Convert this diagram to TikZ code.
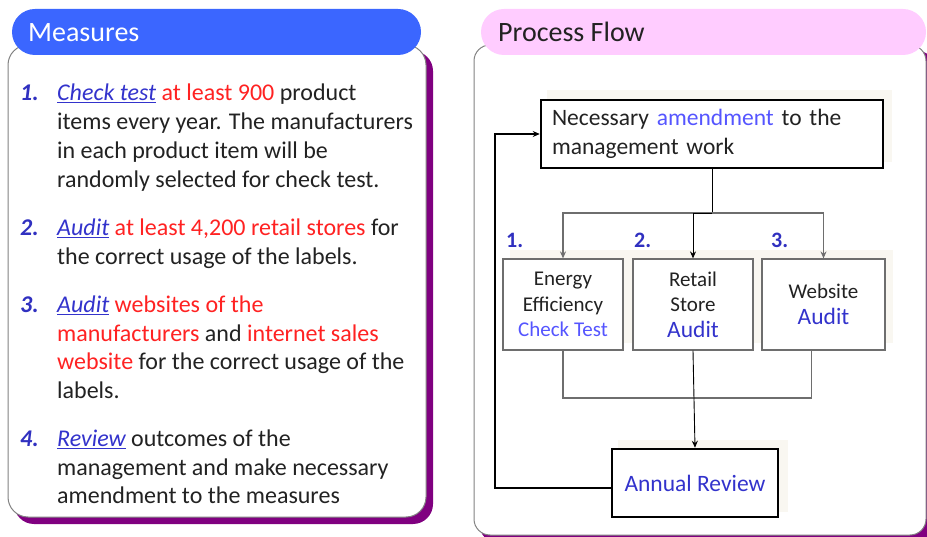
\documentclass[tikz,border=0pt]{standalone}
\usepackage{fontspec}
\setmainfont{Carlito}
\usetikzlibrary{arrows.meta,calc}
\definecolor{hdrblue}{RGB}{59,102,255}
\definecolor{hdrpink}{RGB}{255,204,255}
\definecolor{shadowpurple}{RGB}{128,0,128}
\definecolor{numblue}{RGB}{48,48,192}
\definecolor{kwblue}{RGB}{51,51,204}
\definecolor{txtred}{RGB}{255,34,34}
\definecolor{txtdark}{RGB}{34,34,34}
\definecolor{lightblue}{RGB}{85,85,255}
\definecolor{beige}{RGB}{249,247,241}
\definecolor{panelgray}{RGB}{130,130,130}
\definecolor{linegray}{RGB}{110,110,110}
\newcommand\kwd[1]{\textcolor{kwblue}{\itshape\underline{#1}}}
\newcommand\redtxt[1]{\textcolor{txtred}{#1}}
\begin{document}
\begin{tikzpicture}[x=1pt,y=-1pt,
  hdrtext/.style={anchor=base west, inner sep=0, font=\fontsize{28}{32}\selectfont},
  itemline/.style={anchor=base west, inner sep=0, font=\fontsize{24}{29}\selectfont, text=txtdark},
  itemnum/.style={anchor=base west, inner sep=0, font=\fontsize{24}{29}\selectfont\bfseries\itshape, text=numblue},
  flownum/.style={anchor=base west, inner sep=0, font=\fontsize{22}{26}\selectfont\bfseries, text=numblue},
  boldbox/.style={draw=black, line width=2.5pt, fill=white, inner xsep=11pt, inner ysep=0pt},
  stepbox/.style={draw=linegray, line width=1.2pt, fill=white, align=center, inner sep=0pt,
     minimum height=91pt, font=\fontsize{21}{25.5}\selectfont, text=txtdark},
  thinconn/.style={draw=black, line width=0.9pt},
  grayconn/.style={draw=linegray, line width=1.1pt},
  tip/.style={-{Stealth[length=7pt,width=6pt]}},
  fbconn/.style={draw=black, line width=2.5pt}
]
\useasboundingbox (0,0) rectangle (927,537);

% ---------- left panel ----------
\fill[shadowpurple, rounded corners=20pt] (14,51) rectangle (433,524);
\draw[panelgray, fill=white, rounded corners=20pt, line width=1pt] (8,45) rectangle (426,517);
\fill[hdrblue, rounded corners=23pt] (12,9) rectangle (421,55);
\node[hdrtext, text=white] (mhdr) at (28,42) {Measures};

\node[itemnum] (n1) at (20,100.5) {1.};
\node[itemline] (l1a) at (57,100.5) {\kwd{Check test} \redtxt{at least 900} product};
\node[itemline] (l1b) at (57,130) {items every year. The manufacturers};
\node[itemline] (l1c) at (57,158.5) {in each product item will be};
\node[itemline] (l1d) at (57,187.5) {randomly selected for check test.};

\node[itemnum] (n2) at (20,235.5) {2.};
\node[itemline] (l2a) at (57,235.5) {\kwd{Audit} \redtxt{at least 4,200 retail stores} for};
\node[itemline] (l2b) at (57,264.5) {the correct usage of the labels.};

\node[itemnum] (n3) at (20,312.5) {3.};
\node[itemline] (l3a) at (57,312.5) {\kwd{Audit} \redtxt{websites of the}};
\node[itemline] (l3b) at (57,341.5) {\redtxt{manufacturers} and \redtxt{internet sales}};
\node[itemline] (l3c) at (57,369.5) {\redtxt{website} for the correct usage of the};
\node[itemline] (l3d) at (57,398.5) {labels.};

\node[itemnum] (n4) at (20,446.5) {4.};
\node[itemline] (l4a) at (57,446.5) {\kwd{Review} outcomes of the};
\node[itemline] (l4b) at (57,475.5) {management and make necessary};
\node[itemline] (l4c) at (57,503.5) {amendment to the measures};

% ---------- right panel ----------
\fill[shadowpurple, rounded corners=16pt] (480,51) rectangle (934,542);
\draw[panelgray, fill=white, rounded corners=16pt, line width=1pt] (474,45) rectangle (926,535);
\fill[hdrpink, rounded corners=23pt] (481,9) rectangle (926,55);
\node[hdrtext, text=txtdark] (phdr) at (498,42) {Process Flow};

% faint shadows
\fill[beige] (547,90) rectangle (892,162);
\fill[beige] (510,250) rectangle (893,343);
\fill[beige] (618,440) rectangle (788,512);

\node[boldbox, minimum width=342pt, minimum height=68pt, text width=320pt, align=left,
      font=\fontsize{23.5}{29}\selectfont, text=txtdark] (top) at (712,134)
  {Necessary \textcolor{lightblue}{amendment} to the\\management work};

\node[stepbox, minimum width=120pt] (b1) at (563,304.5)
  {Energy\\Efficiency\\\textcolor{lightblue}{Check Test}};
\node[stepbox, minimum width=120pt] (b2) at (693,304.5)
  {Retail\\Store\\{\fontsize{23.5}{27}\selectfont\textcolor{kwblue}{Audit}}};
\node[stepbox, minimum width=123pt] (b3) at (823.5,304.5)
  {Website\\{\fontsize{23.5}{27}\selectfont\textcolor{kwblue}{Audit}}};

\node[flownum] (f1) at (506,248) {1.};
\node[flownum] (f2) at (634,248) {2.};
\node[flownum] (f3) at (771,248) {3.};

\node[boldbox, minimum width=166pt, minimum height=68pt, font=\fontsize{23.5}{28}\selectfont,
      text=kwblue] (ar) at (695,483) {Annual Review};

% connectors
\coordinate (brj) at (712,213);
\coordinate (mj) at (693,398);
\coordinate (fbx) at (495,0);
\draw[thinconn] (top.south) -- (brj);
\draw[grayconn, tip] (brj) -| (b1.north);
\draw[grayconn, tip] (brj) -| (b3.north);
\draw[thinconn, tip] (brj) -| (b2.north);
\draw[grayconn] (b1.south) |- (mj);
\draw[grayconn] ($(b3.south)+(-12,0)$) |- (mj);
\draw[thinconn, tip] (b2.south) -- (ar.north);
\draw[fbconn, tip] ($(ar.west)+(0,5)$) -| (fbx |- top.west) -- (top.west);
\end{tikzpicture}
\end{document}
